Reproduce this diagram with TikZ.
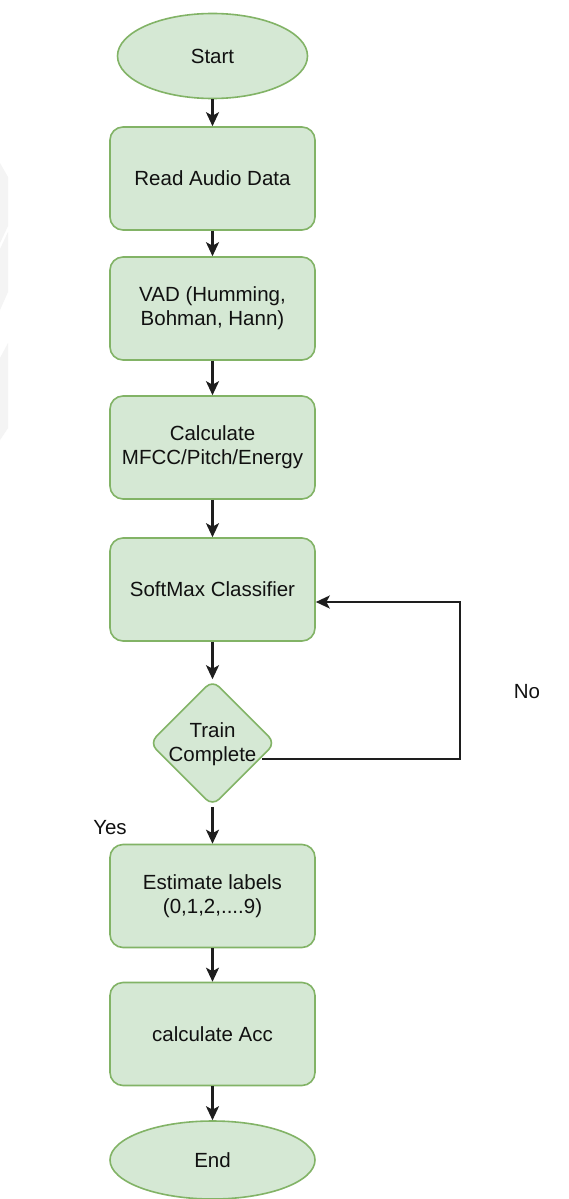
\documentclass[tikz,border=0pt]{standalone}
\usepackage{fontspec}
\setmainfont{Liberation Sans}
\usetikzlibrary{shapes.geometric,arrows.meta,calc}
\definecolor{gfill}{HTML}{D5E8D4}
\definecolor{gline}{HTML}{82B366}
\definecolor{txt}{HTML}{111111}
\definecolor{wm}{HTML}{F4F4F4}
\definecolor{ln}{HTML}{1E1E1E}
\begin{document}
\begin{tikzpicture}[x=1pt,y=-1pt,
  font=\fontsize{20.5}{24}\selectfont,
  box/.style={draw=gline,fill=gfill,line width=1.6pt,rounded corners=13pt,minimum width=205pt,minimum height=103pt,align=center,text=txt,inner sep=0pt},
  term/.style={ellipse,draw=gline,fill=gfill,line width=1.6pt,align=center,text=txt,inner sep=0pt},
  arr/.style={draw=ln,line width=2.2pt,-{Stealth[length=14pt,width=13pt,inset=3.5pt]}},
  lbl/.style={text=txt,inner sep=0pt,align=center}]
\useasboundingbox (0,0) rectangle (568,1199);
\fill[white] (0,0) rectangle (568,1199);
% faint watermark at left edge
\fill[wm] (0,163) -- (8,177) -- (8,226) -- (0,243) -- cycle;
\fill[wm] (8,232) -- (8,292) -- (0,310) -- (0,249) -- cycle;
\fill[wm] (0,358) -- (8,343) -- (8,428) -- (0,440) -- cycle;
% nodes
\node[term,minimum width=190pt,minimum height=85pt] (start) at (212.5,56) {Start};
\node[box] (read) at (212.5,178.5) {Read Audio Data};
\node[box] (vad) at (212.5,308.5) {VAD (Humming,\\Bohman, Hann)};
\node[box] (calc) at (212.5,447.5) {Calculate\\MFCC/Pitch/Energy};
\node[box] (sm) at (212.5,589.5) {SoftMax Classifier};
\node[diamond,aspect=1,draw=gline,fill=gfill,line width=1.6pt,rounded corners=9pt,minimum width=126pt,minimum height=126pt,inner sep=0pt] (dia) at (212.5,743) {};
\node[lbl] (diatxt) at (212.5,744) {Train\\Complete};
\node[box] (est) at (212.5,896) {Estimate labels\\(0,1,2,....9)};
\node[box] (acc) at (212.5,1034) {calculate Acc};
\node[term,minimum width=205pt,minimum height=78pt] (end) at (212.5,1160) {End};
\node[lbl] (no) at (527,692) {No};
\node[lbl] (yes) at (110,828) {Yes};
% connectors
\draw[arr] (start) -- (read);
\draw[arr] (read) -- (vad);
\draw[arr] (vad) -- (calc);
\draw[arr] (calc) -- (sm);
\draw[arr] (sm) -- (dia);
\draw[arr] (dia) -- (est);
\draw[arr] (est) -- (acc);
\draw[arr] (acc) -- (end);
\coordinate (lp) at (262,759);
\coordinate (lc) at (460,759);
\draw[arr] (lp) -- (lc) |- ($(sm.east)+(0,12.5)$);
\end{tikzpicture}
\end{document}
